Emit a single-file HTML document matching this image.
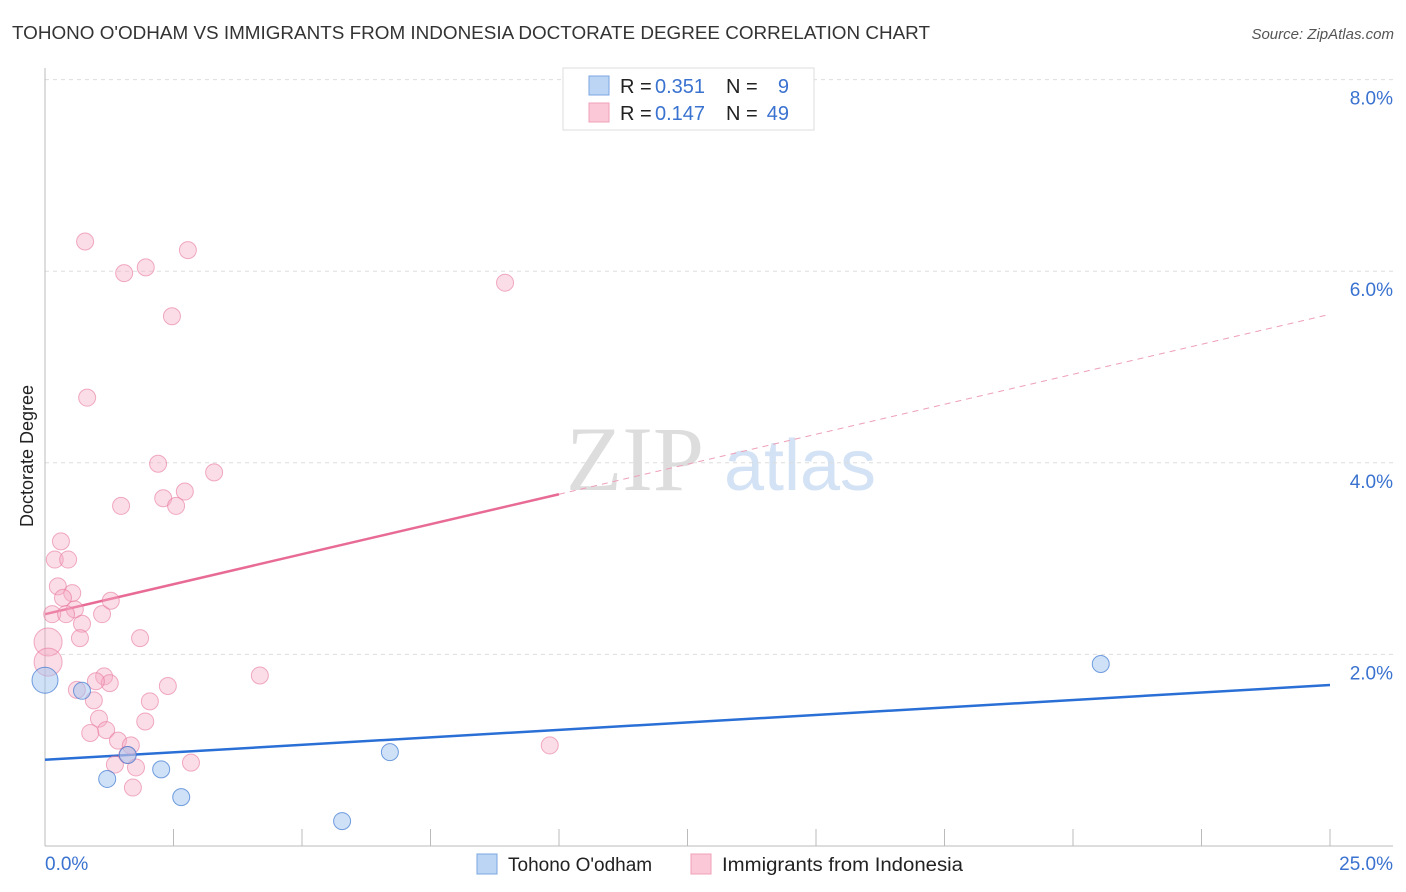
<!DOCTYPE html>
<html><head><meta charset="utf-8"><style>
body{margin:0;background:#fff;font-family:"Liberation Sans",sans-serif;}
svg{display:block}
</style></head><body>
<svg id="chart" width="1406" height="892" xmlns="http://www.w3.org/2000/svg">
<text x="12" y="39" font-size="18" fill="#333" textLength="918" lengthAdjust="spacingAndGlyphs">TOHONO O'ODHAM VS IMMIGRANTS FROM INDONESIA DOCTORATE DEGREE CORRELATION CHART</text>
<text x="1394" y="39" font-size="15" fill="#555" font-style="italic" text-anchor="end">Source: ZipAtlas.com</text>
<text x="0" y="0" transform="translate(33,456) rotate(-90)" font-size="18" fill="#222" text-anchor="middle">Doctorate Degree</text>
<g><text x="635" y="490" font-size="92" fill="#ddd" font-family="Liberation Serif,serif" text-anchor="middle">ZIP</text><text x="800" y="490" font-size="72" fill="#d3e2f4" text-anchor="middle">atlas</text></g>
<g id="grid"></g><g id="axes"></g><g id="lines"></g><g id="pts"></g>
<g>
<rect x="563" y="68" width="251" height="62" fill="#fff" stroke="#ddd"/>
<rect x="589" y="76" width="20" height="19" fill="#bcd5f5" stroke="#7aa6e0"/>
<rect x="589" y="103" width="20" height="19" fill="#fac8d6" stroke="#f0a0b8"/>
<text x="620" y="93" font-size="20" fill="#222">R =</text><text x="655" y="93" font-size="20" fill="#3a72d0">0.351</text>
<text x="726" y="93" font-size="20" fill="#222">N =</text><text x="789" y="93" font-size="20" fill="#3a72d0" text-anchor="end">9</text>
<text x="620" y="120" font-size="20" fill="#222">R =</text><text x="655" y="120" font-size="20" fill="#3a72d0">0.147</text>
<text x="726" y="120" font-size="20" fill="#222">N =</text><text x="789" y="120" font-size="20" fill="#3a72d0" text-anchor="end">49</text>
</g>
<g>
<rect x="477" y="854" width="20" height="20" fill="#bcd5f5" stroke="#7aa6e0"/>
<text x="508" y="871" font-size="19" fill="#222">Tohono O'odham</text>
<rect x="691" y="854" width="20" height="20" fill="#fac8d6" stroke="#f0a0b8"/>
<text x="722" y="871" font-size="19" fill="#222" textLength="241" lengthAdjust="spacingAndGlyphs">Immigrants from Indonesia</text>
</g>
</svg>
<script>
const yTicks=[2,4,6,8];
const yTickLabels=["2.0%","4.0%","6.0%","8.0%"];
const xTickLabels=["0.0%","25.0%"];
const pinkX=[0.78,2.78,1.54,1.96,8.95,2.47,0.82,2.20,3.29,2.30,2.72,1.48,2.55,0.31,0.19,0.45,0.25,0.53,0.35,0.58,0.14,0.41,1.11,1.28,0.72,0.68,1.85,0.06,0.06,4.18,1.15,1.26,0.99,0.62,2.39,2.04,0.95,1.05,1.95,1.19,0.88,1.42,1.67,1.60,1.36,1.77,2.84,1.71,9.82];
const pinkY=[6.31,6.22,5.98,6.04,5.88,5.53,4.68,3.99,3.90,3.63,3.70,3.55,3.55,3.18,2.99,2.99,2.71,2.64,2.59,2.47,2.42,2.42,2.42,2.56,2.32,2.17,2.17,2.13,1.92,1.78,1.77,1.70,1.72,1.63,1.67,1.51,1.52,1.33,1.30,1.21,1.18,1.10,1.05,0.95,0.85,0.82,0.87,0.61,1.05];
const pinkBig=[27,28];
const blueX=[0,0.72,1.21,1.61,2.26,2.65,5.78,6.71,20.54];
const blueY=[1.73,1.62,0.70,0.95,0.80,0.51,0.26,0.98,1.90];
const blueTrend=[0.90,1.68];
const pinkTrend=[2.42,5.55];
const X=v=>45+v*51.4, Y=v=>846-v*95.8;
const NS="http://www.w3.org/2000/svg";
function mk(p,t,a){const e=document.createElementNS(NS,t);for(const k in a)e.setAttribute(k,a[k]);document.getElementById(p).appendChild(e);return e;}
yTicks.forEach((t,i)=>{
 const l=mk('grid','line',{x1:45,x2:1393,y1:Y(t),y2:Y(t),stroke:'#ddd','stroke-dasharray':'4,4'});
 
 
 const tx=mk('grid','text',{x:1393,y:Y(t)+25,'font-size':19,fill:'#3a72d0','text-anchor':'end'});
 tx.textContent=yTickLabels[i];
 
 
});
mk('axes','line',{x1:45,x2:45,y1:68,y2:846,stroke:'#bbb'});
mk('axes','line',{x1:45,x2:1393,y1:846,y2:846,stroke:'#bbb'});
for(let i=0;i<=10;i++){const t=mk('axes','line',{x1:X(i*2.5),x2:X(i*2.5),y1:829,y2:846,stroke:'#bbb'});}
[[0,'start',45],[25,'end',1393]].forEach((d,i)=>{const t=mk('axes','text',{x:d[2],y:870,'font-size':19,fill:'#3a72d0','text-anchor':d[1]});t.textContent=xTickLabels[i];});
const ps=(pinkTrend[1]-pinkTrend[0])/25;
let l1=mk('lines','line',{x1:X(0),y1:Y(pinkTrend[0]),x2:X(10),y2:Y(pinkTrend[0]+ps*10),stroke:'#e86b95','stroke-width':2.5});

let l2=mk('lines','line',{x1:X(10),y1:Y(pinkTrend[0]+ps*10),x2:X(25),y2:Y(pinkTrend[1]),stroke:'#eea0b8','stroke-width':1,'stroke-dasharray':'6,5'});

let l3=mk('lines','line',{x1:X(0),y1:Y(blueTrend[0]),x2:X(25),y2:Y(blueTrend[1]),stroke:'#2a6fd6','stroke-width':2.5});

pinkX.forEach((x,i)=>{const c=mk('pts','circle',{cx:X(x),cy:Y(pinkY[i]),r:pinkBig.includes(i)?14:8.5,fill:'rgba(246,170,195,0.4)',stroke:'rgba(232,120,155,0.6)','stroke-width':1});
 
 });
blueX.forEach((x,i)=>{const c=mk('pts','circle',{cx:X(x),cy:Y(blueY[i]),r:i===0?13:8.5,fill:'rgba(160,195,240,0.5)',stroke:'rgba(60,120,210,0.7)','stroke-width':1});
 
 });
</script>
</body></html>
